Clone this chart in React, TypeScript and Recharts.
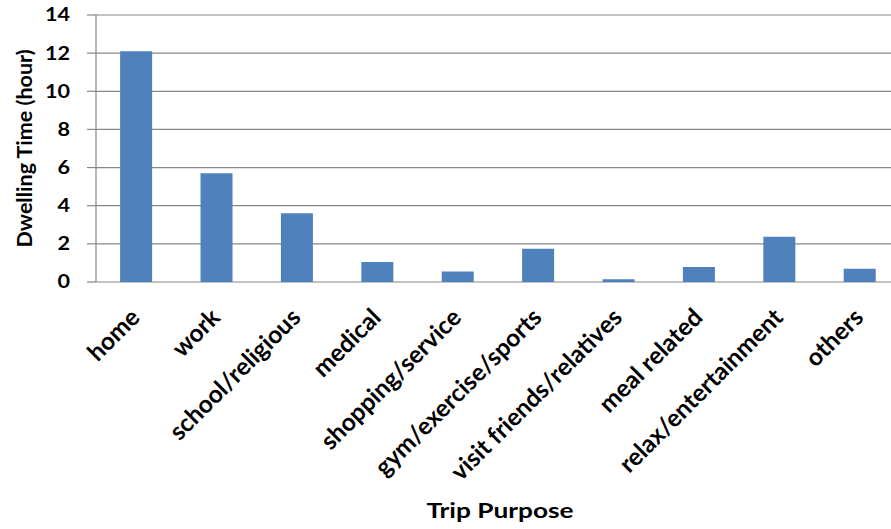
import React from 'react';
import { BarChart, Bar, XAxis, YAxis, CartesianGrid, Label } from 'recharts';

const categories = [
  'home',
  'work',
  'school/religious',
  'medical',
  'shopping/service',
  'gym/exercise/sports',
  'visit friends/relatives',
  'meal related',
  'relax/entertainment',
  'others',
];
const dwellingHours = [12.1, 5.7, 3.6, 1.05, 0.55, 1.75, 0.15, 0.78, 2.37, 0.7];
const yTicks = [0, 2, 4, 6, 8, 10, 12, 14];
const boundaryTicks = [0, 1, 2, 3, 4, 5, 6, 7, 8, 9, 10];

const data = categories.map((c, i) => ({ purpose: c, hours: dwellingHours[i] }));

const FONT = 'Lato, "Liberation Sans", sans-serif';
const AXIS_GRAY = '#868686';
const STRETCH = 1.2;

const XTick = (props: any) => {
  const { x, y, payload } = props;
  return (
    <text
      x={0}
      y={0}
      textAnchor="end"
      transform={`translate(${x + 5},${y + 37}) rotate(-45)`}
      fontFamily={FONT}
      fontWeight="bold"
      fontSize={24.5}
      fill="#000"
    >
      {payload.value}
    </text>
  );
};

const YTick = (props: any) => {
  const { x, y, payload } = props;
  return (
    <text
      x={0}
      y={0}
      dy="0.36em"
      textAnchor="end"
      transform={`translate(${x},${y}) scale(${STRETCH},1)`}
      fontFamily={FONT}
      fontWeight="bold"
      fontSize={18}
      fill="#000"
    >
      {payload.value}
    </text>
  );
};

const XTitle = (props: any) => {
  const vb = props.viewBox || {};
  const cx = vb.x + vb.width / 2 + 2;
  const by = vb.y + vb.height - 11;
  return (
    <text
      x={0}
      y={0}
      textAnchor="middle"
      transform={`translate(${cx},${by}) scale(1.25,1)`}
      fontFamily={FONT}
      fontWeight="bold"
      fontSize={21}
      fill="#000"
    >
      Trip Purpose
    </text>
  );
};

export default function App() {
  return (
    <div
      style={{
        position: 'fixed',
        left: 0,
        top: 0,
        width: 891,
        height: 529,
        overflow: 'hidden',
        background: '#fff',
      }}
    >
      <BarChart
        width={910}
        height={529}
        data={data}
        margin={{ top: 15, right: 10, bottom: 0, left: 0 }}
        barCategoryGap="30%"
      >
        <CartesianGrid
          xAxisId="cat"
          vertical={false}
          stroke={AXIS_GRAY}
          strokeWidth={1.2}
        />
        <XAxis
          xAxisId="grid"
          type="number"
          domain={[0, 10]}
          ticks={boundaryTicks}
          height={0}
          tick={false}
          tickSize={9}
          stroke={AXIS_GRAY}
          strokeWidth={1.2}
          allowDataOverflow
        />
        <XAxis
          xAxisId="cat"
          dataKey="purpose"
          type="category"
          height={247}
          axisLine={false}
          tickLine={false}
          tickSize={0}
          tickMargin={0}
          interval={0}
          tick={<XTick />}
        >
          <Label content={<XTitle />} position="insideBottom" />
        </XAxis>
        <YAxis
          width={96}
          domain={[0, 14]}
          ticks={yTicks}
          interval={0}
          tickSize={9}
          tickMargin={17}
          stroke={AXIS_GRAY}
          strokeWidth={1.2}
          tick={<YTick />}
        >
          <Label
            value="Dwelling Time (hour)"
            angle={-90}
            position="insideLeft"
            offset={21}
            dx={3}
            style={{ textAnchor: 'middle', fontFamily: FONT, fontWeight: 'bold', fontSize: 21.5, fill: '#000' }}
          />
        </YAxis>
        <Bar xAxisId="cat" dataKey="hours" fill="#4F81BD" isAnimationActive={false} />
      </BarChart>
    </div>
  );
}
